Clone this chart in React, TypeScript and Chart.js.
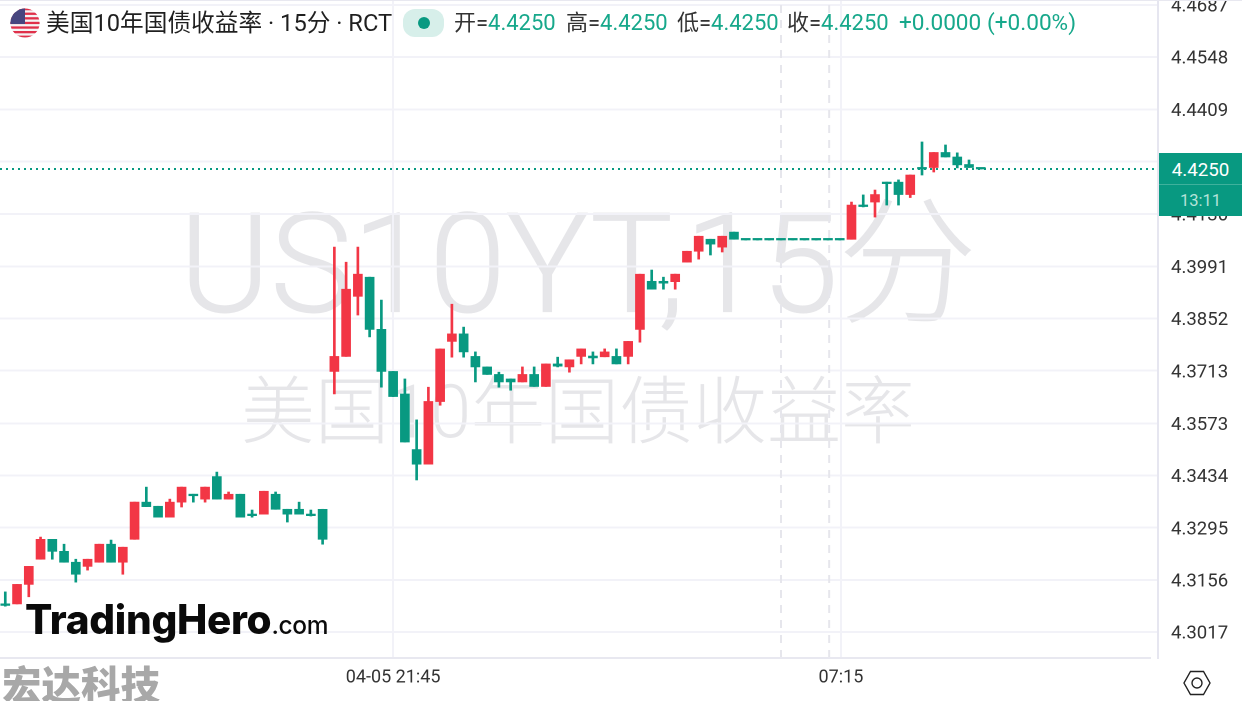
import React, { useEffect, useRef } from "react";
import { Chart, registerables } from "chart.js";

Chart.register(...registerables);

const opens = [
  4.3092, 4.3092, 4.3144, 4.3211, 4.3264, 4.3232, 4.3203, 4.3192, 4.3203, 4.3251, 4.3203, 4.3264,
  4.3363, 4.3352, 4.3323, 4.3363, 4.3384, 4.3371, 4.3431, 4.3371, 4.3384, 4.3331, 4.3331, 4.3384,
  4.3344, 4.3344, 4.3331, 4.3344, 4.3711, 4.3751, 4.3911, 4.3962, 4.3823, 4.3711, 4.3651, 4.3503,
  4.3464, 4.3631, 4.3791, 4.3811, 4.3751, 4.3723, 4.3703, 4.3691, 4.3683, 4.3703, 4.3671, 4.3731,
  4.3723, 4.3751, 4.3752, 4.375, 4.3751, 4.3751, 4.3823, 4.3951, 4.3951, 4.395, 4.4002, 4.4031,
  4.4063, 4.4042, 4.4082, 4.4061, 4.4061, 4.4061, 4.4061, 4.4061, 4.4061, 4.4061, 4.4061, 4.4061,
  4.4063, 4.4153, 4.4162, 4.4215, 4.4215, 4.4182, 4.4253, 4.4254, 4.4294, 4.4282, 4.4262, 4.425,
];
const highs = [
  4.3124, 4.3144, 4.3192, 4.327, 4.3264, 4.3251, 4.3211, 4.3211, 4.3251, 4.3262, 4.3243, 4.3363,
  4.3403, 4.3352, 4.3371, 4.3403, 4.3384, 4.3403, 4.3443, 4.339, 4.3384, 4.3342, 4.3392, 4.339,
  4.3344, 4.3363, 4.3342, 4.3344, 4.4042, 4.4002, 4.4042, 4.3962, 4.3901, 4.3711, 4.3691, 4.3582,
  4.3669, 4.3771, 4.389, 4.3829, 4.3763, 4.3723, 4.3709, 4.3691, 4.3723, 4.3723, 4.3731, 4.3749,
  4.3742, 4.3771, 4.3763, 4.3771, 4.3771, 4.3791, 4.397, 4.3981, 4.3962, 4.397, 4.4031, 4.4071,
  4.4063, 4.4071, 4.4082, 4.4061, 4.4061, 4.4061, 4.4061, 4.4061, 4.4061, 4.4061, 4.4061, 4.4061,
  4.4162, 4.4181, 4.4194, 4.4215, 4.4221, 4.4234, 4.4322, 4.4294, 4.4314, 4.4293, 4.4274, 4.425,
];
const lows = [
  4.3086, 4.3092, 4.3111, 4.3211, 4.3211, 4.3203, 4.315, 4.3182, 4.3203, 4.3203, 4.3171, 4.3264,
  4.3351, 4.3323, 4.3323, 4.335, 4.3363, 4.3363, 4.3371, 4.3371, 4.3323, 4.3323, 4.3331, 4.3344,
  4.331, 4.3331, 4.3326, 4.3251, 4.3651, 4.3751, 4.3861, 4.3803, 4.3669, 4.3644, 4.3523, 4.3422,
  4.3464, 4.3621, 4.3749, 4.3749, 4.3683, 4.3703, 4.3669, 4.3661, 4.3683, 4.3671, 4.3671, 4.3723,
  4.3709, 4.3731, 4.3731, 4.375, 4.3731, 4.3731, 4.3789, 4.393, 4.393, 4.393, 4.4002, 4.401,
  4.4021, 4.4029, 4.4063, 4.4061, 4.4061, 4.4061, 4.4061, 4.4061, 4.4061, 4.4061, 4.4061, 4.4061,
  4.4063, 4.4149, 4.4122, 4.4154, 4.4154, 4.4174, 4.4234, 4.4242, 4.4282, 4.4253, 4.4254, 4.425,
];
const closes = [
  4.3088, 4.3144, 4.3192, 4.3264, 4.3232, 4.3203, 4.3171, 4.3211, 4.3251, 4.3203, 4.3243, 4.3363,
  4.3351, 4.3323, 4.3363, 4.3403, 4.338, 4.3403, 4.3371, 4.3384, 4.3323, 4.3327, 4.3392, 4.3344,
  4.3331, 4.3331, 4.3327, 4.3264, 4.3751, 4.393, 4.397, 4.3823, 4.3711, 4.3644, 4.3523, 4.3464,
  4.3631, 4.3771, 4.3811, 4.3763, 4.3723, 4.3703, 4.3683, 4.3683, 4.3703, 4.3671, 4.3731, 4.3725,
  4.3742, 4.3771, 4.3747, 4.3763, 4.3731, 4.3791, 4.397, 4.393, 4.3946, 4.397, 4.4031, 4.4071,
  4.405, 4.4071, 4.4063, 4.4061, 4.4061, 4.4061, 4.4061, 4.4061, 4.4061, 4.4061, 4.4061, 4.4061,
  4.4154, 4.415, 4.4182, 4.4211, 4.4182, 4.4234, 4.425, 4.4294, 4.4282, 4.4261, 4.4254, 4.425,
];
const priceTicks = [
  4.3017, 4.3156, 4.3295, 4.3434, 4.3573, 4.3713, 4.3852, 4.3991, 4.413, 4.427, 4.4409, 4.4548, 4.4687,
];
const timeTicks = [
  { index: 33, label: "04-05 21:45" },
  { index: 71.1, label: "07:15" },
];
const sessionBreaks = [66, 70.1];
const lastPrice = 4.425;
const yMin = 4.2948;
const yMax = 4.47;
const xMin = -0.45;
const xMax = 98.08;

const UP = "#F23645";
const DOWN = "#089981";
const GRID = "#f2f2f8";
const UI = 'Roboto, "Noto Sans CJK SC", sans-serif';

const watermark = {
  id: "watermark",
  beforeDraw(chart: any) {
    const { ctx } = chart;
    ctx.save();
    ctx.fillStyle = "#e6e6e9";
    ctx.strokeStyle = "#e6e6e9";
    ctx.lineWidth = 1;
    ctx.textAlign = "center";
    ctx.textBaseline = "middle";
    ctx.font = `300 138.5px ${UI}`;
    ctx.fillText("US10YT,15分", 578, 277);
    ctx.strokeText("US10YT,15分", 578, 277);
    ctx.font = `300 74px ${UI}`;
    ctx.fillText("美国10年国债收益率", 578, 419);
    ctx.restore();
  },
};

const topLine = {
  id: "frameLines",
  afterDraw(chart: any) {
    const { ctx } = chart;
    ctx.save();
    ctx.fillStyle = "#e8e8f0";
    ctx.fillRect(0, 0, 1242, 1);
    ctx.fillRect(0, 657, 1151, 2);
    ctx.restore();
  },
};

const abs = (x: number, y: number, extra: React.CSSProperties = {}): React.CSSProperties => ({
  position: "absolute",
  left: x,
  top: y,
  whiteSpace: "nowrap",
  fontFamily: UI,
  ...extra,
});

const legendItems = [
  { label: "开", x: 454, value: lastPrice.toFixed(4) },
  { label: "高", x: 566, value: lastPrice.toFixed(4) },
  { label: "低", x: 677, value: lastPrice.toFixed(4) },
  { label: "收", x: 787, value: lastPrice.toFixed(4) },
];

function Flag() {
  const stripes = [0, 1, 2, 3, 4, 5, 6];
  return (
    <svg width={30} height={30} viewBox="0 0 30 30" style={{ position: "absolute", left: 10, top: 8 }}>
      <defs>
        <clipPath id="c">
          <circle cx={15} cy={15} r={14.6} />
        </clipPath>
      </defs>
      <g clipPath="url(#c)">
        <rect width={30} height={30} fill="#f4f4f4" />
        {stripes.map((s) => (
          <rect key={s} x={0} y={s * 4.6} width={30} height={2.3} fill="#e0304a" />
        ))}
        <rect width={15} height={16} fill="#47467f" />
      </g>
    </svg>
  );
}

export default function App() {
  const ref = useRef<HTMLCanvasElement>(null);

  useEffect(() => {
    const idx = opens.map((_, i) => i);
    const colors = idx.map((i) => (closes[i] > opens[i] ? UP : DOWN));
    const chart = new Chart(ref.current as HTMLCanvasElement, {
      type: "bar",
      data: {
        datasets: [
          {
            type: "line",
            data: [
              { x: xMin, y: lastPrice },
              { x: xMax, y: lastPrice },
            ],
            borderColor: DOWN,
            borderWidth: 2,
            borderDash: [2, 4],
            pointRadius: 0,
            order: 0,
          },
          {
            type: "bar",
            data: idx.map((i) => ({ x: i, y: [Math.min(opens[i], closes[i]), Math.max(opens[i], closes[i])] })),
            backgroundColor: colors,
            barThickness: 9,
            minBarLength: 1.6,
            grouped: false,
            order: 1,
          },
          {
            type: "bar",
            data: idx.map((i) => ({ x: i, y: [lows[i], highs[i]] })),
            backgroundColor: colors,
            barThickness: 2,
            grouped: false,
            order: 2,
          },
          ...sessionBreaks.map((b) => ({
            type: "line",
            data: [
              { x: b, y: yMin },
              { x: b, y: yMax },
            ],
            borderColor: "#e6e6ec",
            borderWidth: 2,
            borderDash: [8, 7],
            pointRadius: 0,
            order: 3,
          })),
        ] as any,
      },
      options: {
        responsive: false,
        animation: false,
        devicePixelRatio: 2,
        layout: { padding: 0 },
        plugins: { legend: { display: false }, tooltip: { enabled: false } },
        scales: {
          x: {
            type: "linear",
            min: xMin,
            max: xMax,
            offset: false,
            afterBuildTicks: (s: any) => {
              s.ticks = timeTicks.map((t) => ({ value: t.index }));
            },
            afterFit: (s: any) => {
              s.height = 43;
              s.paddingLeft = 0;
              s.paddingRight = 0;
            },
            border: { display: false },
            grid: { color: GRID, lineWidth: 2, offset: false, drawTicks: false },
            ticks: {
              autoSkip: false,
              maxRotation: 0,
              padding: 9,
              color: "#333",
              font: { family: UI, size: 18 },
              callback: (v: any) => timeTicks.find((t) => t.index === v)?.label ?? "",
            },
          },
          y: {
            type: "linear",
            position: "right",
            min: yMin,
            max: yMax,
            afterBuildTicks: (s: any) => {
              s.ticks = priceTicks.map((value) => ({ value }));
            },
            afterFit: (s: any) => {
              s.width = 84;
              s.paddingTop = 0;
              s.paddingBottom = 0;
            },
            border: { display: true, color: "#e6e6f0", width: 2 },
            grid: { color: GRID, lineWidth: 2, drawTicks: false },
            ticks: {
              autoSkip: false,
              padding: 13,
              labelOffset: 2,
              color: "#333",
              font: { family: UI, size: 18.6 },
              callback: (v: any) => Number(v).toFixed(4),
            },
          },
        },
      } as any,
      plugins: [watermark, topLine],
    });
    return () => chart.destroy();
  }, []);

  const green = "#17a88b";
  return (
    <div style={{ position: "fixed", left: 0, top: 0, width: 1242, height: 701, overflow: "hidden", background: "#fff" }}>
      <canvas ref={ref} width={1242} height={701} style={{ display: "block", width: 1242, height: 701 }} />
      <Flag />
      <div style={abs(46, 8, { fontSize: 23.7, color: "#1f1f1f", lineHeight: "30px" })}>美国10年国债收益率 · 15分 · RCT</div>
      <div style={{ position: "absolute", left: 403, top: 9, width: 41, height: 28, borderRadius: 12, background: "#d7efea" }} />
      <div style={{ position: "absolute", left: 418, top: 17, width: 12, height: 12, borderRadius: 6, background: DOWN }} />
      {legendItems.map((it) => (
        <div key={it.label} style={abs(it.x, 8, { fontSize: 22, lineHeight: "30px", color: "#333" })}>
          {it.label}=<span style={{ color: green }}>{it.value}</span>
        </div>
      ))}
      <div style={abs(899, 8, { fontSize: 22.6, lineHeight: "30px", color: green })}>+0.0000</div>
      <div style={abs(987, 8, { fontSize: 22.6, lineHeight: "30px", color: green })}>(+0.00%)</div>

      <div style={{ position: "absolute", left: 1159, top: 153, width: 83, height: 63, background: DOWN }} />
      <div style={{ position: "absolute", left: 1159, top: 184, width: 83, height: 1, background: "#3fb19c" }} />
      <div style={abs(1159, 154, { width: 83, textAlign: "center", color: "#fff", fontSize: 18.8, lineHeight: "33px" })}>4.4250</div>
      <div style={abs(1159, 185, { width: 83, textAlign: "center", color: "#b5e3d9", fontSize: 16.5, lineHeight: "31px" })}>13:11</div>

      <div style={abs(25, 596, { fontFamily: "Inter, sans-serif", fontWeight: 800, fontSize: 40.5, lineHeight: "48px", color: "#0a0a0a", letterSpacing: -0.3 })}>
        TradingHero<span style={{ fontSize: 24.5, fontWeight: 500 }}>.com</span>
      </div>
      <div style={abs(2, 662, { fontFamily: '"Noto Sans CJK SC"', fontWeight: 900, fontSize: 39.5, lineHeight: "42px", color: "#a8a8a8" })}>宏达科技</div>

      <svg width={30} height={26} viewBox="0 0 30 26" style={{ position: "absolute", left: 1182, top: 670 }}>
        <path d="M8.5 1.5 H21.5 L28 13 L21.5 24.5 H8.5 L2 13 Z" fill="none" stroke="#222" strokeWidth={1.4} />
        <circle cx={15} cy={13} r={5} fill="none" stroke="#222" strokeWidth={1.4} />
      </svg>
    </div>
  );
}
